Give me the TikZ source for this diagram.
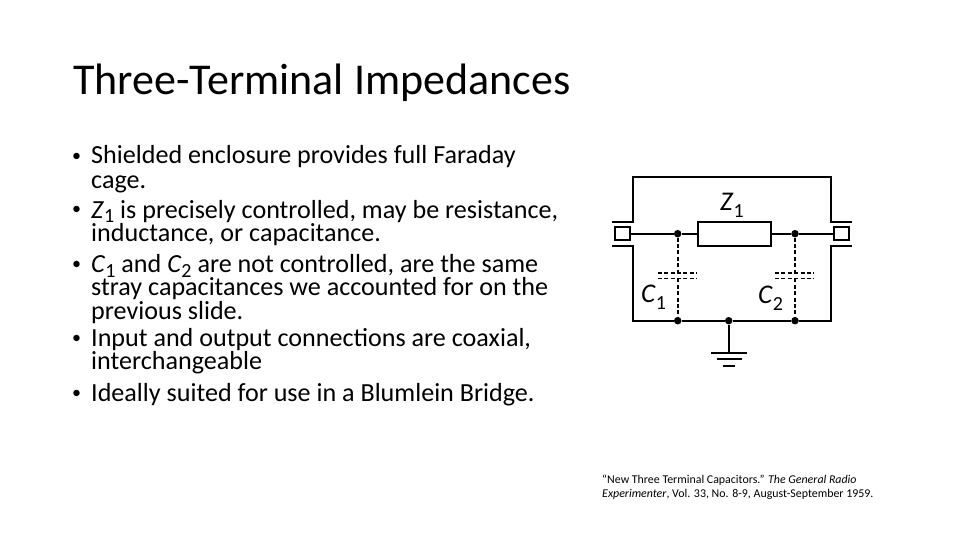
\documentclass[tikz,border=0pt]{standalone}
\usepackage{fontspec}
\setmainfont{Carlito}
\newcommand{\bodysub}[1]{\raisebox{-5pt}{\fontsize{20}{20}\selectfont #1}}
\newcommand{\partsub}[1]{\raisebox{-7pt}{\fontsize{20}{20}\selectfont #1}}
\tikzset{
	bodyline/.style={anchor=base west,inner sep=0pt,font=\fontsize{26.1}{26.1}\selectfont},
	bodybullet/.style={anchor=base west,inner sep=0pt,font=\fontsize{18}{18}\selectfont},
	refline/.style={anchor=base west,inner sep=0pt,font=\fontsize{11.9}{11.9}\selectfont},
	wire/.style={line width=2pt},
	dashwire/.style={line width=1.6pt,dash pattern=on 4pt off 2.4pt},
	junction/.style={circle,fill=black,inner sep=0pt,minimum size=7.5pt},
	terminal/.style={draw,line width=2pt,fill=white,inner sep=0pt,minimum width=15pt,minimum height=12.5pt},
	impbox/.style={draw,line width=2pt,inner sep=0pt,minimum width=73pt,minimum height=24pt},
	partlabel/.style={inner sep=0pt,anchor=base west,font=\fontsize{27}{27}\selectfont}
}
\begin{document}
\begin{tikzpicture}[x=1pt,y=-1pt]
	\useasboundingbox (0,0) rectangle (960,540);
	\node[anchor=base west,inner sep=0pt,font=\fontsize{44}{44}\selectfont] (title) at (73,95) {Three-Terminal Impedances};
	% bullets
	\foreach \n/\y in {a/161,b/214,c/269,d/343,e/398}
	\node[bodybullet] (bullet\n) at (72,\y) {•};
	% body text
	\node[bodyline] (l1) at (91,164) {Shielded enclosure provides full Faraday};
	\node[bodyline] (l2) at (91,188) {cage.};
	\node[bodyline] (l3) at (91,218) {\textit{Z}\bodysub{1} is precisely controlled, may be resistance,};
	\node[bodyline] (l4) at (91,241) {inductance, or capacitance.};
	\node[bodyline] (l5) at (91,272) {\textit{C}\bodysub{1} and \textit{C}\bodysub{2} are not controlled, are the same};
	\node[bodyline] (l6) at (91,295) {stray capacitances we accounted for on the};
	\node[bodyline] (l7) at (91,319) {previous slide.};
	\node[bodyline] (l8) at (91,346) {Input and output connections are coaxial,};
	\node[bodyline] (l9) at (91,369) {interchangeable};
	\node[bodyline] (l10) at (91,401) {Ideally suited for use in a Blumlein Bridge.};
	% reference
	\node[refline] (ref1) at (602,483) {“New Three Terminal Capacitors.” \textit{The General Radio}};
	\node[refline] (ref2) at (602,497) {\textit{Experimenter}, Vol. 33, No. 8-9, August-September 1959.};
	% circuit
	\node[terminal] (portl) at (622.5,233.7) {};
	\node[terminal] (portr) at (841.5,233.7) {};
	\node[impbox] (zbox) at (734.8,233.7) {};
	\node[junction] (jtl) at (677.7,233.7) {};
	\node[junction] (jtr) at (795,233.7) {};
	\node[junction] (jbl) at (677.7,320.7) {};
	\node[junction] (jbm) at (728.7,320.7) {};
	\node[junction] (jbr) at (795,320.7) {};
	\draw[wire] (portl)--(jtl)--(zbox)--(jtr)--(portr);
	% shield
	\coordinate (sul) at (612,222);
	\coordinate (sur) at (851.7,222);
	\coordinate (sll) at (612,245.7);
	\coordinate (slr) at (851.7,245.7);
	\draw[wire] (sul)--(633,222)--(633,176.7)--(831,176.7)--(831,222)--(sur);
	\draw[wire] (sll)--(633,245.7)--(633,320.7)--(jbl)--(jbm)--(jbr)--(831,320.7)--(831,245.7)--(slr);
	% capacitors
	\foreach \n/\x in {l/677.7,r/795}{
		\coordinate (capt\n) at (\x,272.7);
		\coordinate (capb\n) at (\x,278.3);
		\draw[dashwire] (jt\n)--(capt\n);
		\draw[dashwire] (capb\n)--(jb\n);
		\draw[dashwire] (\x-20,272.7)--(\x+19,272.7);
		\draw[dashwire] (\x-20,278.3)--(\x+19,278.3);
	}
	% ground
	\coordinate (gnd) at (728.7,353.3);
	\draw[wire] (jbm)--(gnd);
	\draw[wire] (711,353.3)--(746.7,353.3);
	\draw[wire] (716.7,359.3)--(741.7,359.3);
	\draw[wire] (722.7,365.7)--(735,365.7);
	% labels
	\node[partlabel] (zlabel) at (720,210) {\textit{Z}\partsub{1}};
	\node[partlabel] (c1label) at (641,302) {\textit{C}\partsub{1}};
	\node[partlabel] (c2label) at (758,303) {\textit{C}\partsub{2}};
\end{tikzpicture}
\end{document}
